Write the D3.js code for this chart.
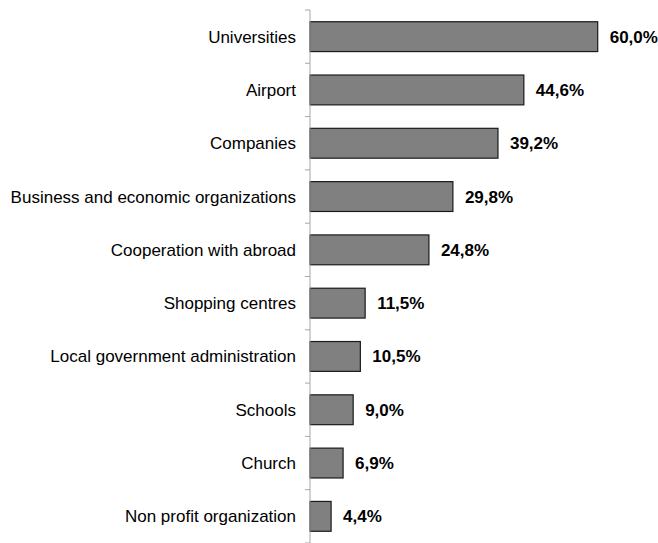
<!DOCTYPE html>
<html>
<head>
<meta charset="utf-8">
<script src="https://cdn.jsdelivr.net/npm/d3@7"></script>
<style>
  html, body { margin: 0; padding: 0; background: #fff; }
  svg { display: block; }
</style>
</head>
<body>
<svg id="chart" width="658" height="543"></svg>
<script>
// Share of respondents per institution type
const categories = [
  "Universities",
  "Airport",
  "Companies",
  "Business and economic organizations",
  "Cooperation with abroad",
  "Shopping centres",
  "Local government administration",
  "Schools",
  "Church",
  "Non profit organization"
];
const values = [60.0, 44.6, 39.2, 29.8, 24.8, 11.5, 10.5, 9.0, 6.9, 4.4];
const valueLabels = ["60,0%", "44,6%", "39,2%", "29,8%", "24,8%", "11,5%", "10,5%", "9,0%", "6,9%", "4,4%"];

const svg = d3.select("#chart");
const axisX = 310, plotTop = 10, plotBottom = 543;

const x = d3.scaleLinear().domain([0, 60]).range([axisX, 597.7]);
const y = d3.scaleBand().domain(categories).range([plotTop, plotBottom]).paddingInner(0.44).paddingOuter(0.22);

// Bars
svg.append("g").selectAll("rect")
  .data(values)
  .join("rect")
  .attr("x", x(0))
  .attr("y", (d, i) => y(categories[i]))
  .attr("width", d => x(d) - x(0))
  .attr("height", y.bandwidth())
  .attr("fill", "#808080")
  .attr("stroke", "#1a1a1a")
  .attr("stroke-width", 1.2);

// Category axis with tick marks between bands
const step = (plotBottom - plotTop) / categories.length;
const axisG = svg.append("g");
axisG.append("line")
  .attr("x1", axisX).attr("x2", axisX)
  .attr("y1", plotTop).attr("y2", plotBottom)
  .attr("stroke", "#a6a6a6").attr("stroke-width", 1);
axisG.selectAll("line.tick")
  .data(d3.range(categories.length + 1))
  .join("line")
  .attr("class", "tick")
  .attr("x1", axisX - 5).attr("x2", axisX)
  .attr("y1", i => plotTop + i * step).attr("y2", i => plotTop + i * step)
  .attr("stroke", "#a6a6a6").attr("stroke-width", 1);

// Category labels
svg.append("g").selectAll("text")
  .data(categories)
  .join("text")
  .attr("x", 296)
  .attr("y", d => y(d) + y.bandwidth() / 2)
  .attr("dy", "0.35em")
  .attr("text-anchor", "end")
  .attr("font-family", "Liberation Sans, Arial, sans-serif")
  .attr("font-size", 17)
  .attr("fill", "#000")
  .text(d => d);

// Value labels
svg.append("g").selectAll("text")
  .data(values)
  .join("text")
  .attr("x", d => x(d) + 12)
  .attr("y", (d, i) => y(categories[i]) + y.bandwidth() / 2)
  .attr("dy", "0.35em")
  .attr("font-family", "Liberation Sans, Arial, sans-serif")
  .attr("font-size", 17)
  .attr("font-weight", "bold")
  .attr("fill", "#000")
  .text((d, i) => valueLabels[i]);
</script>
</body>
</html>
